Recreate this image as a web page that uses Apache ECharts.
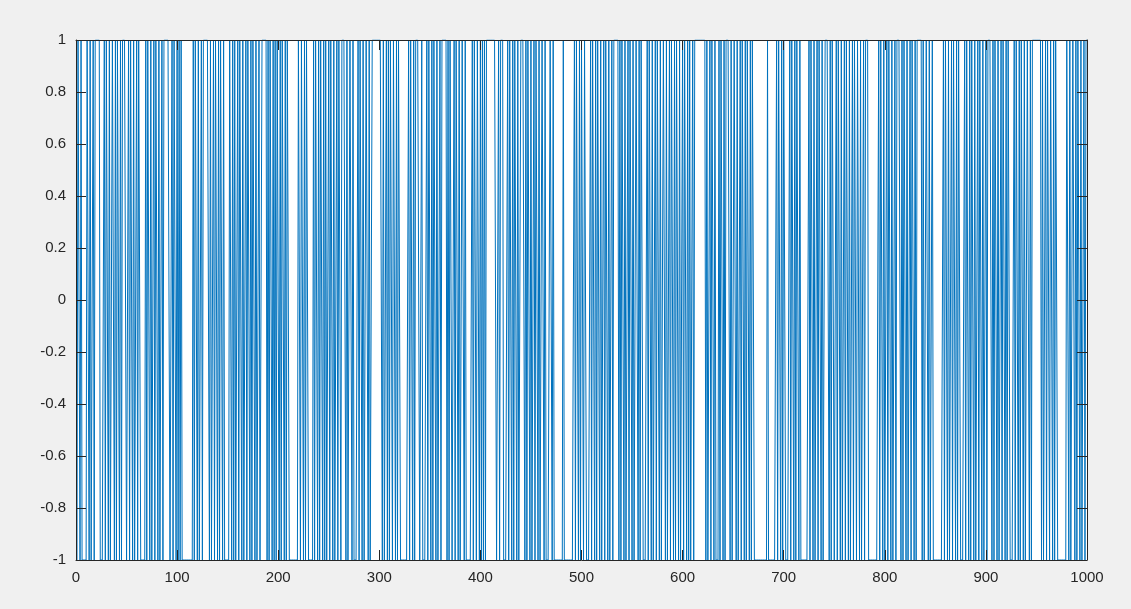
<!DOCTYPE html>
<html>
<head>
<meta charset="utf-8">
<script src="https://cdn.jsdelivr.net/npm/echarts@6/dist/echarts.min.js"></script>
<style>
html,body{margin:0;padding:0;background:#f0f0f0;}
#chart{width:1131px;height:609px;}
</style>
</head>
<body>
<div id="chart"></div>
<script>
// Signal values, samples 1..1000 in blocks of 100
const seg01 = [-1,1,1,-1,1,-1,-1,-1,-1,-1, 1,1,-1,1,-1,-1,1,-1,1,1, 1,1,1,-1,-1,-1,-1,1,-1,1, 1,-1,1,-1,-1,1,1,-1,1,-1, 1,1,-1,1,-1,1,1,1,1,-1,
  -1,1,-1,1,1,-1,1,-1,-1,1, -1,1,1,-1,-1,-1,-1,-1,1,-1, 1,1,-1,1,-1,-1,1,-1,1,1, -1,1,-1,-1,1,-1,1,1,1,1, 1,1,-1,-1,1,-1,1,1,-1,1];
const seg02 = [-1,1,-1,1,-1,-1,-1,-1,-1,-1, -1,-1,-1,-1,-1,1,-1,1,1,-1, 1,-1,-1,1,-1,1,1,1,1,1, 1,-1,1,-1,-1,1,-1,1,1,-1, 1,-1,1,1,-1,1,-1,-1,-1,-1,
  -1,1,1,-1,1,-1,1,-1,-1,1, -1,1,1,-1,1,-1,-1,1,-1,1, 1,-1,1,-1,1,1,-1,1,-1,-1, 1,-1,-1,1,1,1,1,1,-1,1, -1,1,1,-1,1,-1,1,-1,1,1];
const seg03 = [-1,1,-1,1,1,-1,1,-1,1,1, -1,-1,-1,-1,-1,-1,-1,-1,-1,1, 1,-1,1,1,-1,1,-1,1,1,-1, -1,-1,-1,-1,1,-1,1,1,-1,1, -1,1,1,-1,1,-1,1,-1,-1,1,
  -1,1,1,-1,1,-1,-1,1,-1,1, 1,-1,1,1,1,1,-1,1,-1,-1, 1,1,-1,1,-1,-1,-1,-1,1,-1, 1,1,-1,1,-1,-1,1,1,-1,1, -1,-1,1,1,1,1,1,1,1,1];
const seg04 = [1,1,-1,1,-1,-1,1,-1,1,-1, 1,1,-1,1,1,-1,1,-1,1,1, -1,-1,-1,-1,-1,-1,-1,-1,1,-1, 1,1,-1,1,-1,1,1,1,1,-1, -1,1,-1,-1,-1,-1,1,-1,1,1,
  -1,1,-1,1,1,-1,1,-1,-1,1, -1,1,1,1,1,1,-1,1,-1,1, 1,-1,-1,1,-1,1,1,-1,1,-1, -1,1,1,-1,1,-1,-1,-1,-1,-1, -1,1,-1,1,1,-1,1,1,-1,1];
const seg05 = [-1,1,-1,1,-1,1,1,1,1,1, 1,1,1,1,1,-1,-1,1,-1,1, 1,1,-1,-1,-1,-1,1,-1,1,1, -1,1,-1,1,1,-1,1,-1,-1,1, 1,1,1,-1,1,-1,1,1,-1,1,
  -1,-1,1,-1,1,1,-1,1,-1,-1, 1,1,-1,1,-1,-1,-1,-1,1,1, -1,1,-1,-1,-1,-1,-1,-1,-1,-1, -1,1,-1,-1,-1,-1,-1,-1,-1,-1, -1,-1,1,-1,1,1,-1,1,-1,1];
const seg06 = [1,-1,1,1,-1,-1,-1,-1,1,-1, 1,1,-1,1,-1,1,1,-1,1,-1, -1,1,-1,1,1,-1,1,-1,-1,1, -1,1,1,1,1,1,-1,1,-1,1, 1,-1,1,-1,-1,1,-1,1,1,-1,
  1,-1,-1,1,1,-1,1,-1,1,1, -1,-1,-1,-1,1,-1,1,1,-1,1, -1,-1,1,-1,1,1,-1,1,-1,-1, 1,1,-1,1,-1,-1,1,-1,1,1, -1,1,-1,1,1,-1,1,-1,-1,1];
const seg07 = [-1,1,1,-1,1,-1,1,-1,-1,1, -1,1,1,1,1,1,1,1,1,1, 1,1,-1,1,-1,-1,1,-1,1,1, -1,1,-1,-1,-1,1,-1,1,1,-1, 1,-1,1,1,1,1,-1,1,-1,-1,
  1,1,-1,1,-1,-1,1,-1,1,1, -1,1,-1,1,1,-1,1,-1,1,1, -1,-1,-1,-1,-1,-1,-1,-1,-1,-1, -1,-1,-1,1,-1,-1,-1,-1,-1,-1, -1,-1,1,-1,1,1,-1,1,-1,1];
const seg08 = [1,-1,-1,-1,-1,1,-1,1,1,-1, 1,-1,1,1,-1,1,-1,-1,-1,-1, -1,-1,-1,-1,1,-1,1,1,-1,1, -1,-1,1,-1,1,1,-1,1,-1,-1, 1,1,1,1,-1,1,-1,1,1,-1,
  -1,1,-1,1,1,-1,1,-1,-1,1, -1,1,1,-1,1,-1,-1,1,-1,1, 1,-1,1,1,-1,1,-1,-1,1,-1, 1,1,1,-1,-1,-1,-1,-1,-1,-1, -1,-1,-1,1,-1,1,1,-1,1,-1];
const seg09 = [-1,1,-1,1,1,-1,1,-1,-1,1, -1,1,1,1,1,-1,1,-1,1,1, -1,1,-1,-1,1,-1,1,1,-1,1, -1,1,1,1,1,1,-1,1,-1,-1, 1,1,-1,1,-1,-1,1,-1,-1,-1,
  -1,-1,-1,-1,-1,-1,-1,1,-1,1, 1,-1,1,-1,-1,1,-1,1,1,-1, 1,-1,1,1,-1,-1,-1,-1,1,-1, 1,1,-1,1,-1,1,1,-1,1,-1, -1,1,-1,1,1,-1,1,-1,-1,1];
const seg10 = [-1,1,1,1,1,-1,1,-1,1,1, -1,1,-1,-1,1,-1,1,1,-1,1, -1,1,1,-1,-1,-1,-1,1,-1,1, 1,-1,1,-1,1,1,-1,1,-1,-1, 1,1,-1,1,-1,1,1,1,1,1,
  1,1,1,1,-1,1,-1,-1,1,-1, 1,1,-1,1,1,-1,1,-1,1,1, -1,-1,-1,-1,-1,-1,-1,-1,-1,1, 1,-1,1,-1,-1,1,1,-1,1,-1, 1,1,-1,1,-1,-1,1,-1,1,1];

const xTickLabels = ["0","100","200","300","400","500","600","700","800","900","1000"];
const yTickLabels = ["-1","-0.8","-0.6","-0.4","-0.2","0","0.2","0.4","0.6","0.8","1"];

const values = [].concat(seg01, seg02, seg03, seg04, seg05, seg06, seg07, seg08, seg09, seg10);
const seriesData = values.map((v, i) => [i + 1, v]);

const axisColor = '#262626';
const font = {color: axisColor, fontSize: 15, fontFamily: 'Liberation Sans, Arial, Helvetica, sans-serif'};

function xAx(pos, showLabel) {
  return {
    type: 'value', min: 0, max: 1000, interval: 100, position: pos, z: 5,
    axisLine: {show: true, onZero: false, lineStyle: {color: axisColor, width: 1}},
    axisTick: {show: true, inside: true, length: 10, lineStyle: {color: axisColor, width: 1}},
    axisLabel: Object.assign({show: showLabel, margin: 10,
      formatter: v => xTickLabels[Math.round(v / 100)]}, font),
    splitLine: {show: false}
  };
}
function yAx(pos, showLabel) {
  return {
    type: 'value', min: -1, max: 1, interval: 0.2, position: pos, z: 5,
    axisLine: {show: true, onZero: false, lineStyle: {color: axisColor, width: 1}},
    axisTick: {show: true, inside: true, length: 10, lineStyle: {color: axisColor, width: 1}},
    axisLabel: Object.assign({show: showLabel, margin: 10,
      formatter: v => yTickLabels[Math.round((v + 1) / 0.2)]}, font),
    splitLine: {show: false}
  };
}

const chart = echarts.init(document.getElementById('chart'), null, {renderer: 'canvas'});
chart.setOption({
  backgroundColor: '#f0f0f0',
  animation: false,
  grid: {left: 76, top: 40, width: 1011, height: 520, show: true, backgroundColor: '#ffffff', borderWidth: 0},
  xAxis: [xAx('bottom', true), xAx('top', false)],
  yAxis: [yAx('left', true), yAx('right', false)],
  series: [{
    type: 'line', data: seriesData, xAxisIndex: 0, yAxisIndex: 0,
    showSymbol: false, symbol: 'none', sampling: null, z: 2,
    lineStyle: {color: '#0072BD', width: 1},
    emphasis: {disabled: true}
  }]
});
</script>
</body>
</html>
